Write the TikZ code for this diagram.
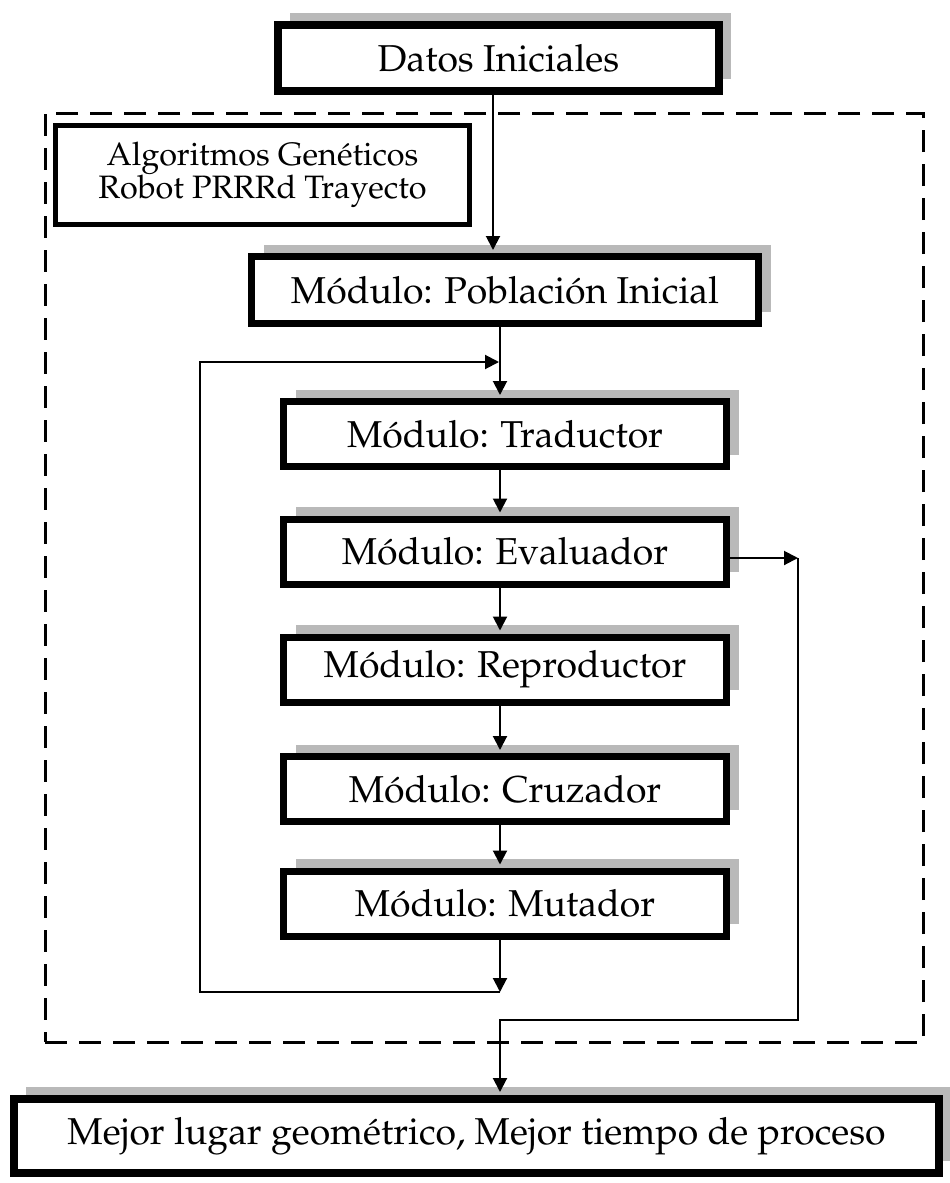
\documentclass[tikz,border=0pt]{standalone}
\usepackage[T1]{fontenc}
\usepackage{mathpazo}
\usetikzlibrary{arrows.meta,shadows}

\tikzset{
  shadowed/.style={drop shadow={shadow xshift=6pt, shadow yshift=6pt, fill=gray!55, opacity=1}},
  modbox/.style={shadowed, draw, fill=white, line width=3.5pt, inner sep=0pt,
    align=center, minimum width=221.5pt, minimum height=32.5pt,
    font=\fontsize{18.7}{18.7}\selectfont},
  bigbox/.style={shadowed, draw, fill=white, line width=4pt, inner sep=0pt, align=center,
    font=\fontsize{18.7}{18.7}\selectfont},
  titlebox/.style={draw, fill=white, line width=2.5pt, inner sep=0pt, align=center,
    font=\fontsize{16.2}{16.5}\selectfont},
  framebox/.style={draw, line width=1.5pt, dash pattern=on 11pt off 6pt, inner sep=0pt},
  link/.style={line width=1pt},
  arr/.style={link, -{Triangle[length=7pt,width=7pt]}, shorten >=1.5pt},
  arrfree/.style={link, -{Triangle[length=7pt,width=7pt]}}
}

\begin{document}
\begin{tikzpicture}[x=0.5pt, y=-0.5pt]
\useasboundingbox (0,0) rectangle (949,1183);

% dashed frame around the genetic-algorithm stage
\node[framebox, minimum width=439pt, minimum height=464.5pt] (ga) at (484,577.5) {};

% boxes
\node[bigbox, minimum width=220.5pt, minimum height=33pt]
  (datos) at (498.5,58) {Datos Iniciales};
\node[titlebox, minimum width=207pt, minimum height=49.5pt]
  (title) at (262.5,175) {Algoritmos Gen\'eticos\\Robot PRRRd Trayecto};
\node[modbox, minimum width=253.5pt, minimum height=33.5pt]
  (pob) at (505,290) {M\'odulo: Poblaci\'on Inicial};
\node[modbox] (tra) at (505,434)   {M\'odulo: Traductor};
\node[modbox] (eva) at (505,551.5) {M\'odulo: Evaluador};
\node[modbox] (rep) at (505,669.5) {M\'odulo: Reproductor};
\node[modbox] (cru) at (505,789)   {M\'odulo: Cruzador};
\node[modbox] (mut) at (505,903.5) {M\'odulo: Mutador};
\node[bigbox, minimum width=462.5pt, minimum height=37pt]
  (fin) at (476.5,1136) {Mejor lugar geom\'etrico, Mejor tiempo de proceso};

% reference columns and corners of the connectors
\coordinate (c0) at (493,0);
\coordinate (c1) at (500,0);
\coordinate (loopB) at (500,992);
\coordinate (loopL) at (200,362);
\coordinate (loopT) at (499,362);
\coordinate (evR) at (798,558);
\coordinate (outB) at (500,1020);

% main flow
\draw[arr] (datos.south -| c0) -- (pob.north -| c0);
\draw[arr] (pob.south -| c1) -- (tra.north -| c1);
\draw[arr] (tra.south -| c1) -- (eva.north -| c1);
\draw[arr] (eva.south -| c1) -- (rep.north -| c1);
\draw[arr] (rep.south -| c1) -- (cru.north -| c1);
\draw[arr] (cru.south -| c1) -- (mut.north -| c1);

% generation loop
\draw[arrfree] (mut.south -| c1) -- (loopB);
\draw[arrfree] (loopB) -| (loopL) -- (loopT);

% exit to the result
\draw[arrfree] (eva.east |- evR) -- (evR);
\draw[arr] (evR) |- (outB) -- (fin.north -| outB);
\end{tikzpicture}
\end{document}
